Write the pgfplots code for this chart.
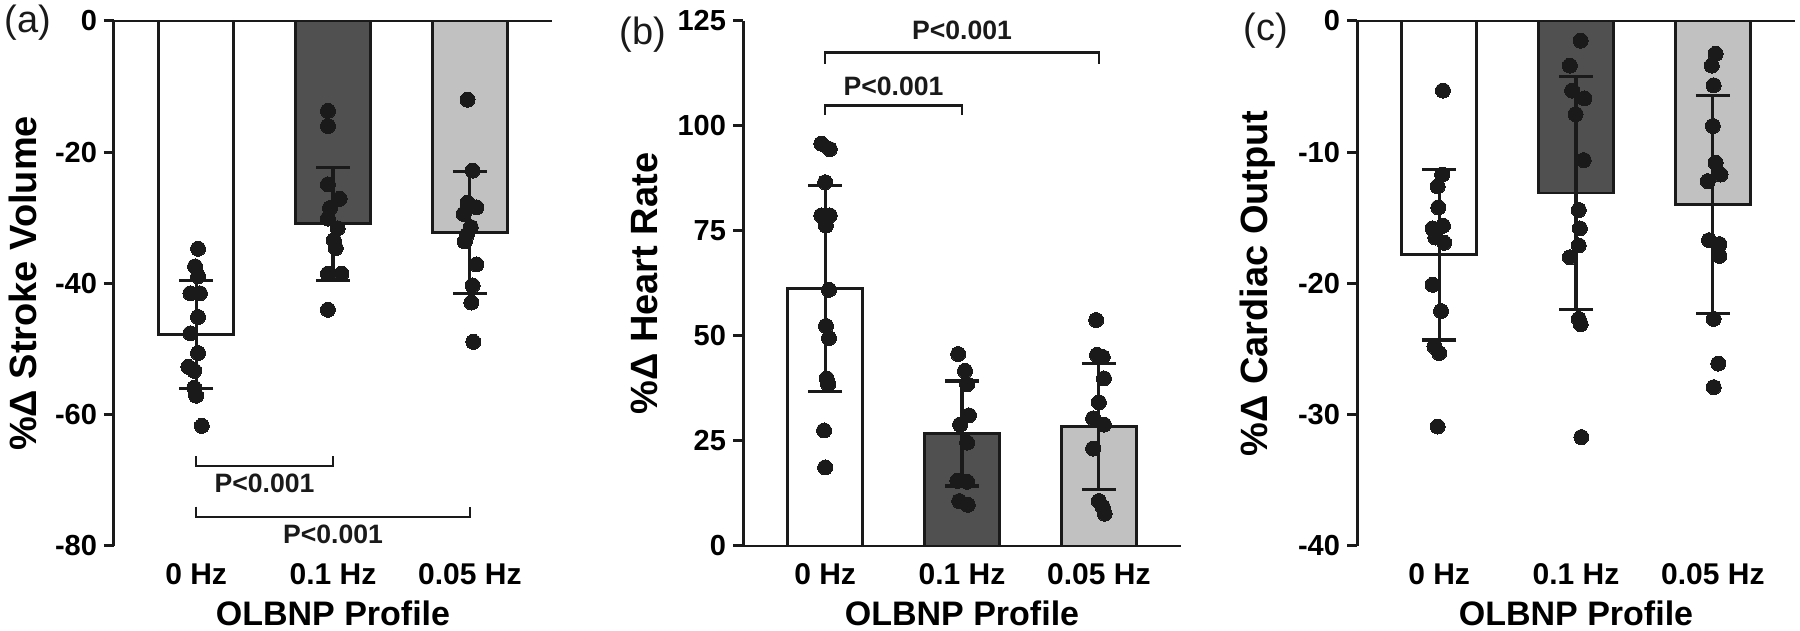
\documentclass[border=0pt]{standalone}
\usepackage{fontspec}
\setmainfont{Liberation Sans}
\usepackage{pgfplots}
\pgfplotsset{compat=1.18}

\definecolor{darkbar}{RGB}{80,80,80}
\definecolor{lightbar}{RGB}{193,193,193}
\definecolor{ink}{RGB}{26,26,26}

\tikzset{
  brk/.style={draw=ink, line width=1.3pt},
  ptxt/.style={font=\fontsize{13.3}{16}\selectfont\bfseries, text=ink},
}
\pgfplotsset{
  panel/.style={
    scale only axis, width=219pt, height=262.5pt,
    xmin=-0.6, xmax=2.6,
    axis y line*=left, axis x line*=bottom,
    x axis line style={draw=none},
    y axis line style={line width=1.5pt, draw=ink},
    ytick style={line width=1.5pt, draw=ink},
    tick align=outside, major tick length=5pt,
    xtick={0,1,2}, xticklabels={0 Hz,0.1 Hz,0.05 Hz},
    xtick style={draw=none},
    xticklabel style={font=\fontsize{15}{18}\selectfont\bfseries, anchor=center, yshift=-9pt},
    yticklabel style={font=\fontsize{14.5}{17}\selectfont\bfseries},
    xlabel={OLBNP Profile},
    xlabel style={font=\fontsize{17}{20}\selectfont\bfseries, at={(axis description cs:0.5,-0.128)}, anchor=center},
    ylabel style={font=\fontsize{19}{22}\selectfont\bfseries, anchor=center},
    clip=false,
  },
  mybar/.style={ybar, bar width=0.55, bar shift=0pt, draw=ink, line width=1.3pt,
    error bars/y dir=both, error bars/y explicit,
    error bars/error bar style={line width=1.6pt, draw=ink},
    error bars/error mark options={rotate=90, line width=1.6pt, draw=ink, mark size=8.5pt}},
  dots/.style={only marks, mark=*, mark size=3.75pt, mark options={fill=ink, draw=ink, line width=0pt}},
}

\pgfplotstableread{
x y
0.014 -34.7
-0.008 -37.4
0.014 -38.9
-0.042 -41.5
0.028 -41.5
0.014 -45.1
-0.042 -47.6
0.014 -50.6
-0.056 -52.7
-0.014 -53.3
-0.014 -55.9
0.000 -57.1
0.042 -61.7
0.963 -13.7
0.963 -16.0
0.963 -24.9
1.048 -27.1
0.978 -28.5
0.963 -30.1
1.034 -31.6
1.006 -33.4
1.020 -34.6
0.963 -38.5
1.062 -38.5
0.963 -44.0
1.983 -12.0
2.020 -22.8
1.983 -27.7
2.048 -28.4
1.955 -29.4
2.006 -31.4
1.978 -32.6
1.963 -33.6
2.048 -37.1
2.020 -40.3
2.011 -42.9
2.025 -48.9
}\dotsA

\pgfplotstableread{
x y
-0.028 95.8
0.034 94.5
0.000 86.6
-0.028 78.7
0.034 78.7
0.006 76.3
0.028 61.0
0.006 52.4
0.028 49.5
0.011 39.9
0.022 38.5
-0.008 27.5
0.000 18.7
0.972 45.7
1.022 41.7
1.037 38.5
1.051 31.1
0.986 28.9
1.037 24.6
0.966 15.5
1.037 15.3
0.980 10.7
1.042 9.8
1.980 53.8
1.986 45.5
2.028 45.0
2.037 39.9
2.000 34.2
1.958 30.4
2.037 28.9
1.958 23.2
2.000 10.7
2.028 9.3
2.042 7.7
}\dotsB

\pgfplotstableread{
x y
0.028 -5.3
0.022 -11.7
-0.011 -12.6
-0.006 -14.2
-0.048 -15.8
0.028 -15.6
-0.028 -16.5
0.037 -16.9
-0.048 -20.1
0.014 -22.1
-0.034 -24.8
0.000 -25.3
-0.011 -30.9
1.034 -1.5
0.955 -3.4
0.972 -5.3
1.062 -5.9
0.997 -7.1
1.056 -10.6
1.020 -14.4
1.028 -15.8
1.020 -17.1
0.955 -18.0
1.020 -22.7
1.034 -23.1
1.039 -31.7
2.020 -2.5
1.992 -3.4
2.006 -4.9
2.000 -8.0
2.020 -10.8
2.056 -11.7
1.963 -12.2
1.972 -16.7
2.048 -17.0
2.048 -17.9
2.006 -22.7
2.039 -26.1
2.006 -27.9
}\dotsC

\begin{document}
\begin{tikzpicture}
\useasboundingbox (0,0) rectangle (900pt,315.5pt);

% ---------- (a) ----------
\begin{axis}[panel, at={(57pt,42.5pt)}, anchor=south west,
  ymin=-80, ymax=0, ytick={-80,-60,-40,-20,0}, yticklabels={-80,-60,-40,-20,0},
  ylabel={\%Δ Stroke Volume},
  ylabel style={at={(axis description cs:-0.208,0.5)}}]
\addplot[mybar, fill=white] coordinates {(0,-47.8) +- (0,8.2)};
\addplot[mybar, fill=darkbar] coordinates {(1,-30.9) +- (0,8.6)};
\addplot[mybar, fill=lightbar] coordinates {(2,-32.2) +- (0,9.3)};
\addplot[dots] table[x=x,y=y] {\dotsA};
\draw[draw=ink, line width=1.4pt] (axis cs:-0.6,0) -- (axis cs:2.6,0);
\draw[brk] (axis cs:0,-66.3) -- (axis cs:0,-67.8) -- (axis cs:1,-67.8) -- (axis cs:1,-66.3);
\node[ptxt] at (axis cs:0.5,-70.5) {P<0.001};
\draw[brk] (axis cs:0,-74.0) -- (axis cs:0,-75.6) -- (axis cs:2,-75.6) -- (axis cs:2,-74.0);
\node[ptxt] at (axis cs:1,-78.3) {P<0.001};
\end{axis}

% ---------- (b) ----------
\begin{axis}[panel, at={(371.5pt,42.5pt)}, anchor=south west,
  x axis line style={draw=ink, line width=1.4pt},
  ymin=0, ymax=125, ytick={0,25,50,75,100,125}, yticklabels={0,25,50,75,100,125},
  ylabel={\%Δ Heart Rate},
  ylabel style={at={(axis description cs:-0.226,0.5)}}]
\addplot[mybar, fill=white] coordinates {(0,61.3) +- (0,24.5)};
\addplot[mybar, fill=darkbar] coordinates {(1,26.8) +- (0,12.5)};
\addplot[mybar, fill=lightbar] coordinates {(2,28.4) +- (0,15.0)};
\addplot[dots] table[x=x,y=y] {\dotsB};
\draw[brk] (axis cs:0,102.7) -- (axis cs:0,104.9) -- (axis cs:1,104.9) -- (axis cs:1,102.7);
\node[ptxt] at (axis cs:0.5,109.4) {P<0.001};
\draw[brk] (axis cs:0,114.8) -- (axis cs:0,117.5) -- (axis cs:2,117.5) -- (axis cs:2,114.8);
\node[ptxt] at (axis cs:1,122.8) {P<0.001};
\end{axis}

% ---------- (c) ----------
\begin{axis}[panel, at={(678.5pt,42.5pt)}, anchor=south west,
  ymin=-40, ymax=0, ytick={-40,-30,-20,-10,0}, yticklabels={-40,-30,-20,-10,0},
  ylabel={\%Δ Cardiac Output},
  ylabel style={at={(axis description cs:-0.227,0.5)}}]
\addplot[mybar, fill=white] coordinates {(0,-17.8) +- (0,6.5)};
\addplot[mybar, fill=darkbar] coordinates {(1,-13.1) +- (0,8.9)};
\addplot[mybar, fill=lightbar] coordinates {(2,-14.0) +- (0,8.3)};
\addplot[dots] table[x=x,y=y] {\dotsC};
\draw[draw=ink, line width=1.4pt] (axis cs:-0.6,0) -- (axis cs:2.6,0);
\end{axis}

\node[font=\fontsize{19}{22}\selectfont, text=ink] at (14pt,304pt) {(a)};
\node[font=\fontsize{19}{22}\selectfont, text=ink] at (321.5pt,298pt) {(b)};
\node[font=\fontsize{19}{22}\selectfont, text=ink] at (633pt,300pt) {(c)};
\end{tikzpicture}
\end{document}
